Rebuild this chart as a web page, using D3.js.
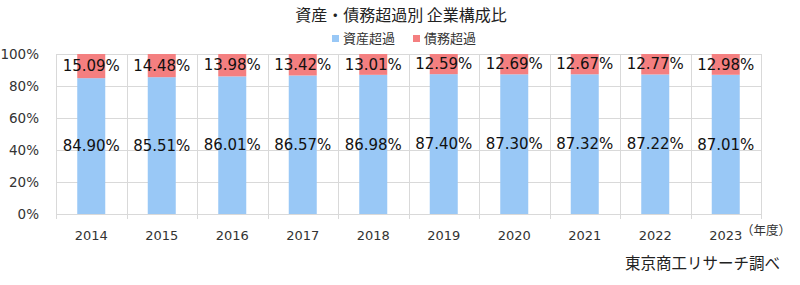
<!DOCTYPE html>
<html>
<head>
<meta charset="utf-8">
<script src="https://cdn.jsdelivr.net/npm/d3@7"></script>
<style>
  body { margin: 0; background: #fff; }
  text { font-family: "Noto Sans CJK JP", "Noto Sans", sans-serif; }
  .num { font-family: "DejaVu Sans", sans-serif; }
</style>
</head>
<body>
<script>
const years = ['2014', '2015', '2016', '2017', '2018', '2019', '2020', '2021', '2022', '2023'];
const assetExcess = [84.90, 85.51, 86.01, 86.57, 86.98, 87.40, 87.30, 87.32, 87.22, 87.01];
const debtExcess = [15.09, 14.48, 13.98, 13.42, 13.01, 12.59, 12.69, 12.67, 12.77, 12.98];
const yTicks = [0, 20, 40, 60, 80, 100];
const seriesNames = ['資産超過', '債務超過'];
const colors = ['#99c8f6', '#f47f80'];

const w = 800, h = 285;
const m = { left: 56, right: 39, top: 54, bottom: 71 };

const svg = d3.select('body').append('svg')
    .attr('width', w)
    .attr('height', h);

const x = d3.scaleBand().domain(years).range([m.left, w - m.right]).paddingInner(0).paddingOuter(0);
const y = d3.scaleLinear().domain([0, 100]).range([h - m.bottom, m.top]);

// gridlines
svg.append('g').selectAll('line').data(yTicks).enter().append('line')
    .attr('x1', m.left).attr('x2', w - m.right)
    .attr('y1', d => y(d) + 0.5).attr('y2', d => y(d) + 0.5)
    .attr('stroke', '#d9d9d9');
svg.append('g').selectAll('line').data(years.concat(['end'])).enter().append('line')
    .attr('x1', (d, i) => Math.round(m.left + i * x.bandwidth()) + 0.5)
    .attr('x2', (d, i) => Math.round(m.left + i * x.bandwidth()) + 0.5)
    .attr('y1', y(100)).attr('y2', y(0) + 5)
    .attr('stroke', '#d9d9d9');

// stacked bars
const barW = 28;
const rows = years.map((yr, i) => ({ yr: yr, a: assetExcess[i], d: debtExcess[i] }));
const g = svg.append('g');
g.selectAll('rect.a').data(rows).enter().append('rect')
    .attr('x', d => x(d.yr) + x.bandwidth() / 2 - barW / 2)
    .attr('width', barW)
    .attr('y', d => y(d.a))
    .attr('height', d => y(0) - y(d.a))
    .attr('fill', colors[0]);
g.selectAll('rect.d').data(rows).enter().append('rect')
    .attr('x', d => x(d.yr) + x.bandwidth() / 2 - barW / 2)
    .attr('width', barW)
    .attr('y', d => y(d.a + d.d))
    .attr('height', d => y(d.a) - y(d.a + d.d))
    .attr('fill', colors[1]);

// value labels
g.selectAll('text.a').data(rows).enter().append('text')
    .attr('class', 'num')
    .attr('x', d => x(d.yr) + x.bandwidth() / 2)
    .attr('y', d => y(d.a / 2))
    .attr('dy', '0.35em')
    .attr('text-anchor', 'middle')
    .attr('font-size', 15)
    .attr('fill', '#111')
    .text(d => d.a.toFixed(2) + '%');
g.selectAll('text.d').data(rows).enter().append('text')
    .attr('class', 'num')
    .attr('x', d => x(d.yr) + x.bandwidth() / 2)
    .attr('y', d => y(d.a + d.d / 2))
    .attr('dy', '0.35em')
    .attr('text-anchor', 'middle')
    .attr('font-size', 15)
    .attr('fill', '#111')
    .text(d => d.d.toFixed(2) + '%');

// axes
const yAxis = svg.append('g')
    .attr('transform', `translate(${m.left - 14},0)`)
    .call(d3.axisLeft(y).tickValues(yTicks).tickFormat(d => d + '%').tickSize(0));
yAxis.select('.domain').remove();
yAxis.selectAll('text').attr('class', 'num').attr('font-size', 13.5).attr('fill', '#333').attr('font-family', null);

const xAxis = svg.append('g')
    .attr('transform', `translate(0,${y(0) + 14})`)
    .call(d3.axisBottom(x).tickSize(0));
xAxis.select('.domain').remove();
xAxis.selectAll('text').attr('class', 'num').attr('font-size', 13).attr('fill', '#333').attr('font-family', null);

svg.append('text').attr('x', 766).attr('y', 235)
    .attr('text-anchor', 'middle').attr('font-size', 12.5).attr('fill', '#333')
    .text('（年度）');

// title & legend
svg.append('text').attr('x', 401).attr('y', 21)
    .attr('text-anchor', 'middle').attr('font-size', 16).attr('fill', '#222')
    .text('資産・債務超過別 企業構成比');

const leg = svg.append('g').attr('transform', 'translate(332,38)');
seriesNames.forEach((s, i) => {
    const lg = leg.append('g').attr('transform', `translate(${i * 81},0)`);
    lg.append('rect').attr('x', 0).attr('y', -3).attr('width', 7).attr('height', 7).attr('fill', colors[i]);
    lg.append('text').attr('x', 11).attr('y', 0).attr('dy', '0.35em')
        .attr('font-size', 13).attr('fill', '#333').text(s);
});

svg.append('text').attr('x', 780).attr('y', 269)
    .attr('text-anchor', 'end').attr('font-size', 15.5).attr('fill', '#222')
    .text('東京商工リサーチ調べ');
</script>
</body>
</html>
